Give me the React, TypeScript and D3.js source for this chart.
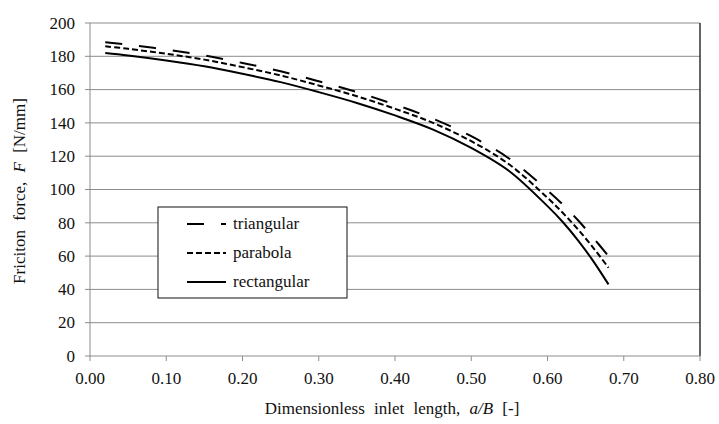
import React from 'react';
import * as d3 from 'd3';

// a/B values
const inletLength = [0.02, 0.05, 0.10, 0.15, 0.20, 0.25, 0.30, 0.35, 0.40, 0.45, 0.50, 0.55, 0.60, 0.62, 0.64, 0.66, 0.68];
// friction force [N/mm] per pressure distribution
const triangular = [188.5, 187, 184, 180.5, 176, 171, 165, 158.5, 151, 142.5, 132, 118.5, 99.5, 91, 81.5, 71, 60];
const parabola = [186, 184.5, 181.5, 178, 173.5, 168.5, 162.5, 156, 148.5, 140, 129, 115, 95, 86, 76, 65, 53];
const rectangular = [182, 180.5, 177.5, 174, 169.5, 164.5, 158.5, 152, 144.5, 136, 125, 111, 90, 80.5, 69.5, 57, 43];

const xTicks = [0, 0.1, 0.2, 0.3, 0.4, 0.5, 0.6, 0.7, 0.8];
const yTicks = [0, 20, 40, 60, 80, 100, 120, 140, 160, 180, 200];

const seriesNames = ['triangular', 'parabola', 'rectangular'];
const seriesValues = [triangular, parabola, rectangular];
const dashes = ['17,17', '6,3', undefined];

const FONT = 'Liberation Serif';
const GRID = '#8c8c8c';
const INK = '#111';

const width = 719;
const height = 424;
const margin = { top: 23, right: 19, bottom: 68, left: 90 };

const x = d3.scaleLinear().domain([0, 0.8]).range([margin.left, width - margin.right]);
const y = d3.scaleLinear().domain([0, 200]).range([height - margin.bottom, margin.top]);

const line = d3.line<number>()
  .x((_, j) => x(inletLength[j]))
  .y(d => y(d))
  .curve(d3.curveCatmullRom.alpha(0.5));

const fmt = d3.format('.2f');

const App = () => (
  <svg width={width} height={height} fontFamily={FONT} style={{ position: 'absolute', left: 0, top: 0 }}>
    {/* grid */}
    {yTicks.slice(1).map(t => (
      <line key={`g${t}`} x1={x(0)} x2={x(0.8)} y1={y(t)} y2={y(t)} stroke={GRID} strokeWidth={1} />
    ))}
    {/* right border */}
    <line x1={x(0.8)} x2={x(0.8)} y1={y(200)} y2={y(0)} stroke={INK} strokeWidth={1.3} />

    {/* axes */}
    <line x1={x(0)} x2={x(0.8)} y1={y(0)} y2={y(0)} stroke={GRID} />
    <line x1={x(0)} x2={x(0)} y1={y(0)} y2={y(200)} stroke={GRID} />
    {xTicks.map(t => (
      <g key={`x${t}`}>
        <line x1={x(t)} x2={x(t)} y1={y(0)} y2={y(0) + 5} stroke={GRID} />
        <text x={x(t)} y={y(0) + 28} textAnchor="middle" fontSize={17} fill={INK}>{fmt(t)}</text>
      </g>
    ))}
    {yTicks.map(t => (
      <g key={`y${t}`}>
        <line x1={x(0) - 5} x2={x(0)} y1={y(t)} y2={y(t)} stroke={GRID} />
        <text x={x(0) - 15} y={y(t)} dy="0.34em" textAnchor="end" fontSize={17} fill={INK}>{t}</text>
      </g>
    ))}

    {/* curves */}
    {seriesValues.map((vals, i) => (
      <path key={seriesNames[i]} d={line(vals) || ''} fill="none" stroke="#000" strokeWidth={2}
        strokeDasharray={dashes[i]} />
    ))}

    {/* legend */}
    <g transform="translate(158, 207)">
      <rect width={189} height={91} fill="#fff" stroke={INK} strokeWidth={1} />
      {seriesNames.map((name, i) => {
        const cy = 17 + i * 29;
        return (
          <g key={`l${name}`}>
            <line x1={29} x2={68} y1={cy} y2={cy} stroke="#000" strokeWidth={2} strokeDasharray={dashes[i]} />
            <text x={75} y={cy} dy="0.32em" fontSize={17} fill={INK}>{name}</text>
          </g>
        );
      })}
    </g>

    {/* axis titles */}
    <text x={392} y={414} textAnchor="middle" fontSize={17} fill={INK} wordSpacing={5}>
      Dimensionless inlet length, <tspan fontStyle="italic">a/B</tspan> [-]
    </text>
    <text transform="translate(25, 191) rotate(-90)" textAnchor="middle" fontSize={17} fill={INK} wordSpacing={5}>
      Friciton force, <tspan fontStyle="italic">F</tspan> [N/mm]
    </text>
  </svg>
);

export default App;
